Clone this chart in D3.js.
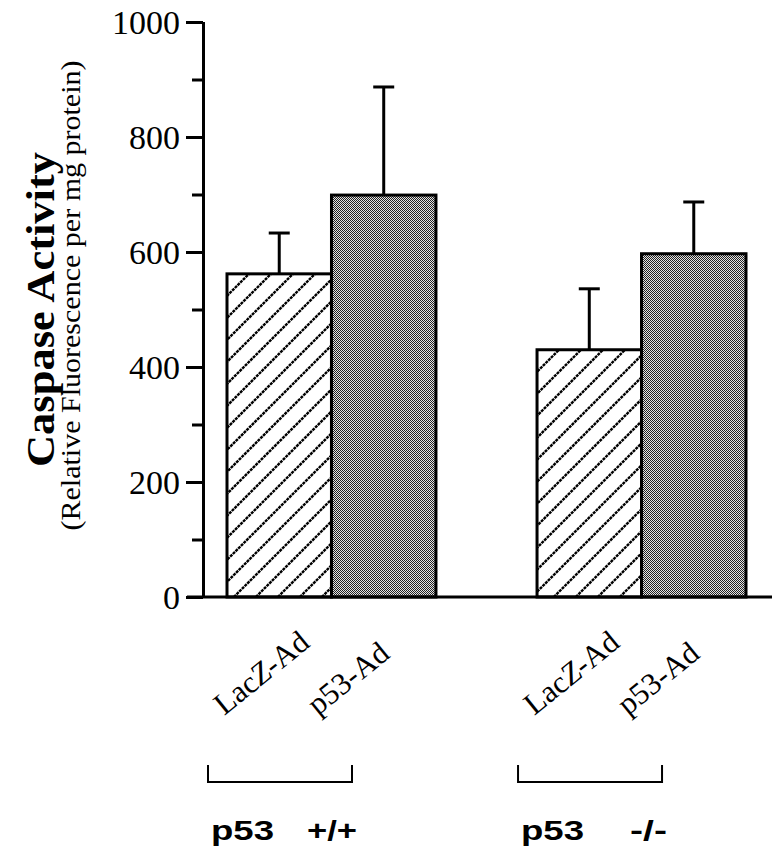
<!DOCTYPE html>
<html>
<head>
<meta charset="utf-8">
<script src="https://cdn.jsdelivr.net/npm/d3@7"></script>
<style>
  html, body { margin: 0; padding: 0; background: #fff; }
  svg { display: block; }
</style>
</head>
<body>
<div id="chart"></div>
<script>
// chart data
const groups = ['+/+', '-/-'];
const treatments = ['LacZ-Ad', 'p53-Ad'];
const meanLacZ = [562, 430];
const meanP53 = [699, 597];
const errLacZ = [71, 106];
const errP53 = [188, 90];
const yTicks = [0, 200, 400, 600, 800, 1000];
const yMinorTicks = [100, 300, 500, 700, 900];

const width = 778;
const height = 852;
const serif = '"Liberation Serif", "Times New Roman", serif';
const sans = '"Liberation Sans", Arial, sans-serif';

const svg = d3.select('#chart')
  .append('svg')
  .attr('width', width)
  .attr('height', height);

svg.append('rect')
  .attr('width', width)
  .attr('height', height)
  .attr('fill', '#fff');

// fill pattern for the dark bars (fine dither)
const defs = svg.append('defs');

const dither = defs.append('pattern')
  .attr('id', 'dither')
  .attr('patternUnits', 'userSpaceOnUse')
  .attr('width', 2)
  .attr('height', 2);
dither.append('rect').attr('width', 2).attr('height', 2).attr('fill', '#e4e4e4');
dither.append('rect').attr('x', 0).attr('y', 0).attr('width', 1).attr('height', 1).attr('fill', '#222');
dither.append('rect').attr('x', 1).attr('y', 1).attr('width', 1).attr('height', 1).attr('fill', '#222');

// scales
const y = d3.scaleLinear()
  .domain([0, 1000])
  .range([597, 22]);

const xGroup = d3.scaleBand()
  .domain(groups)
  .range([227, 746])
  .paddingInner(0.326)
  .paddingOuter(0);

const xInner = d3.scaleBand()
  .domain(treatments)
  .range([0, xGroup.bandwidth()]);

// y axis (major + minor ticks)
const axisX = 203;

const yAxis = d3.axisLeft(y)
  .tickValues(yTicks)
  .tickSize(17)
  .tickPadding(6)
  .tickFormat(d3.format('d'));

const yMinor = d3.axisLeft(y)
  .tickValues(yMinorTicks)
  .tickSize(11)
  .tickFormat('');

const gy = svg.append('g')
  .attr('transform', `translate(${axisX},0)`)
  .call(yAxis);
svg.append('g')
  .attr('transform', `translate(${axisX},0)`)
  .call(yMinor)
  .call(g => g.select('.domain').remove());

gy.select('.domain')
  .attr('d', `M0.5,${y(1000)}V${y(0)}`)
  .attr('stroke', '#000')
  .attr('stroke-width', 3);
svg.selectAll('.tick line')
  .attr('stroke', '#000')
  .attr('stroke-width', 3);
gy.selectAll('.tick text')
  .attr('font-family', serif)
  .attr('font-size', 34)
  .attr('fill', '#000')
  .attr('dy', '0.34em');

// bars
const bars = [];
groups.forEach((g, i) => {
  bars.push({ group: g, treatment: treatments[0], value: meanLacZ[i], err: errLacZ[i] });
  bars.push({ group: g, treatment: treatments[1], value: meanP53[i], err: errP53[i] });
});

const barX = d => xGroup(d.group) + xInner(d.treatment);
const barCx = d => barX(d) + xInner.bandwidth() / 2;
const bw = xInner.bandwidth();

// error bars (upper only)
const capW = 21;
const errG = svg.append('g')
  .attr('stroke', '#000')
  .attr('stroke-width', 3);

errG.selectAll('.err-line')
  .data(bars)
  .enter()
  .append('line')
  .attr('class', 'err-line')
  .attr('x1', barCx)
  .attr('x2', barCx)
  .attr('y1', d => y(d.value))
  .attr('y2', d => y(d.value + d.err));

errG.selectAll('.err-cap')
  .data(bars)
  .enter()
  .append('line')
  .attr('class', 'err-cap')
  .attr('x1', d => barCx(d) - capW / 2)
  .attr('x2', d => barCx(d) + capW / 2)
  .attr('y1', d => y(d.value + d.err))
  .attr('y2', d => y(d.value + d.err));

// hatched bars: white fill, diagonal lines clipped to the bar
const hatchGap = 22;
const lacz = bars.filter(d => d.treatment === 'LacZ-Ad');
const dark = bars.filter(d => d.treatment !== 'LacZ-Ad');

lacz.forEach((d, i) => {
  const x0 = barX(d);
  const y0 = y(d.value);
  const h = y(0) - y0;
  defs.append('clipPath')
    .attr('id', `clip-${i}`)
    .append('rect')
    .attr('x', x0).attr('y', y0)
    .attr('width', bw).attr('height', h);

  svg.append('rect')
    .attr('x', x0).attr('y', y0)
    .attr('width', bw).attr('height', h)
    .attr('fill', '#fff');

  const offsets = d3.range(0, bw + h + hatchGap, hatchGap);
  svg.append('g')
    .attr('clip-path', `url(#clip-${i})`)
    .selectAll('line')
    .data(offsets)
    .enter()
    .append('line')
    .attr('x1', o => x0 + o - h)
    .attr('y1', y(0))
    .attr('x2', o => x0 + o)
    .attr('y2', y0)
    .attr('stroke', '#000')
    .attr('stroke-width', 2.4)
    .attr('stroke-dasharray', '3,0.8');
});

svg.selectAll('.bar')
  .data(bars)
  .enter()
  .append('rect')
  .attr('class', 'bar')
  .attr('x', barX)
  .attr('y', d => y(d.value))
  .attr('width', bw)
  .attr('height', d => y(0) - y(d.value))
  .attr('fill', d => d.treatment === 'LacZ-Ad' ? 'none' : 'url(#dither)')
  .attr('stroke', '#000')
  .attr('stroke-width', 3);

// baseline
svg.append('line')
  .attr('x1', 187)
  .attr('x2', 772)
  .attr('y1', y(0))
  .attr('y2', y(0))
  .attr('stroke', '#000')
  .attr('stroke-width', 3);

// rotated treatment labels
const labelShift = { 'LacZ-Ad': -55, 'p53-Ad': -66 };

const labels = svg.selectAll('.x-label')
  .data(bars)
  .enter()
  .append('text')
  .attr('class', 'x-label')
  .attr('font-family', serif)
  .attr('font-size', 31)
  .attr('fill', '#000')
  .attr('text-anchor', 'start')
  .attr('transform', d => `translate(${barCx(d) + labelShift[d.treatment]},716) rotate(-39)`);

labels.each(function(d) {
  const t = d3.select(this);
  if (d.treatment === 'LacZ-Ad') {
    t.append('tspan').text('Lac');
    t.append('tspan').attr('font-style', 'italic').text('Z');
    t.append('tspan').text('-Ad');
  } else {
    t.text(d.treatment);
  }
});

// group brackets and genotype labels
const bracketW = 144;
const bracket = svg.selectAll('.bracket')
  .data(groups)
  .enter()
  .append('g')
  .attr('class', 'bracket')
  .attr('transform', d => `translate(${xGroup(d) - 19},0)`);

bracket.append('path')
  .attr('d', `M0,765V782H${bracketW}V765`)
  .attr('fill', 'none')
  .attr('stroke', '#000')
  .attr('stroke-width', 2);

bracket.append('text')
  .attr('x', 3)
  .attr('y', 840)
  .attr('font-family', sans)
  .attr('font-weight', 'bold')
  .attr('font-size', 27)
  .attr('textLength', 63)
  .attr('lengthAdjust', 'spacingAndGlyphs')
  .text('p53');

bracket.append('text')
  .attr('x', bracketW + 5)
  .attr('y', 840)
  .attr('text-anchor', 'end')
  .attr('font-family', sans)
  .attr('font-weight', 'bold')
  .attr('font-size', 27)
  .attr('textLength', d => d === '+/+' ? 50 : 37)
  .attr('lengthAdjust', 'spacingAndGlyphs')
  .text(d => d);

// y axis titles
const midY = (y(0) + y(1000)) / 2;

svg.append('text')
  .attr('transform', `translate(54,${midY}) rotate(-90)`)
  .attr('text-anchor', 'middle')
  .attr('font-family', serif)
  .attr('font-weight', 'bold')
  .attr('font-size', 41)
  .attr('textLength', 315)
  .attr('lengthAdjust', 'spacingAndGlyphs')
  .text('Caspase Activity');

svg.append('text')
  .attr('transform', `translate(80,${midY - 14}) rotate(-90)`)
  .attr('text-anchor', 'middle')
  .attr('font-family', serif)
  .attr('font-size', 28)
  .attr('textLength', 470)
  .attr('lengthAdjust', 'spacingAndGlyphs')
  .text('(Relative Fluorescence per mg protein)');
</script>
</body>
</html>
